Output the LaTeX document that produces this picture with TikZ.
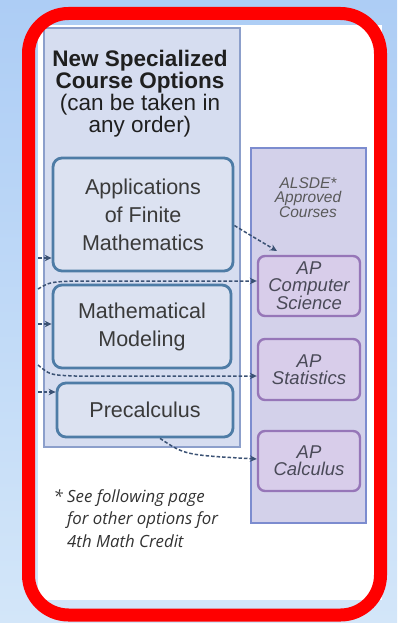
\documentclass[tikz,border=0pt]{standalone}
\usepackage{fontspec}
\setmainfont{Liberation Sans}
\newfontfamily\footfont{Open Sans}
\usetikzlibrary{arrows.meta}
\definecolor{bgtop}{HTML}{ADCDF5}
\definecolor{bgbot}{HTML}{D3E6F9}
\definecolor{panelfill}{HTML}{D6DDF0}
\definecolor{paneldraw}{HTML}{8C9FCB}
\definecolor{rpanelfill}{HTML}{D3D1EA}
\definecolor{rpaneldraw}{HTML}{7C8CCF}
\definecolor{boxfill}{HTML}{DCE2F1}
\definecolor{boxdraw}{HTML}{4E7CA6}
\definecolor{apfill}{HTML}{D8CDEA}
\definecolor{apdraw}{HTML}{9676B8}
\definecolor{arrowcol}{HTML}{3B5274}
\definecolor{txtdark}{HTML}{3A3A3A}
\definecolor{txtap}{HTML}{4A4A58}
\definecolor{borderred}{HTML}{FF0000}
\tikzset{
  panelbox/.style={fill=panelfill, draw=paneldraw, line width=2pt},
  rpanelbox/.style={fill=rpanelfill, draw=rpaneldraw, line width=2pt},
  coursebox/.style={draw=boxdraw, fill=boxfill, line width=2.8pt, rounded corners=9pt,
     align=center, text=txtdark, font=\fontsize{21.5}{28}\selectfont, inner sep=0pt},
  apbox/.style={draw=apdraw, fill=apfill, line width=2.4pt, rounded corners=7pt,
     align=center, text=txtap, font=\itshape\fontsize{18.5}{17}\selectfont,
     minimum width=102pt, minimum height=60pt, inner sep=0pt},
  dasharrow/.style={draw=arrowcol, line width=1.5pt, dash pattern=on 3.5pt off 2pt,
     -{Stealth[length=7pt,width=6.5pt]}},
}
\begin{document}
\begin{tikzpicture}[x=1pt,y=-1pt]
\useasboundingbox (0,0) rectangle (397,623);
\shade[top color=bgtop, bottom color=bgbot] (0,0) rectangle (397,623);
\fill[white] (38,25) rectangle (382,600);

% panels
\draw[panelbox] (44,28) rectangle (240,447);
\draw[rpanelbox] (251,148) rectangle (366,523);

% heading
\node[align=center, text=black!88, inner sep=0pt] (head) at (140,94)
  {\fontsize{22.5}{27}\selectfont\bfseries New Specialized\\
   \fontsize{22.5}{27}\selectfont\bfseries Course Options\\
   \fontsize{22.5}{27}\selectfont(can be taken in\\
   \fontsize{22.5}{27}\selectfont any order)};

\node[align=center, text=black!65, inner sep=0pt, font=\itshape\fontsize{15.5}{14}\selectfont]
  (alsde) at (308,198) {ALSDE*\\Approved\\Courses};

% course boxes
\node[coursebox, minimum width=180pt, minimum height=113pt] (app) at (143,214.5)
  {Applications\\of Finite\\Mathematics};
\node[coursebox, minimum width=178pt, minimum height=83pt] (mm) at (142,326.5)
  {Mathematical\\Modeling};
\node[coursebox, minimum width=176pt, minimum height=54pt] (pre) at (145,410)
  {Precalculus};

% AP boxes
\node[apbox] (apcs) at (309,286) {AP\\Computer\\Science};
\node[apbox, minimum height=61pt] (apst) at (309,369.5) {AP\\Statistics};
\node[apbox] (apca) at (309,461) {AP\\Calculus};

% footnote
\node[anchor=north west, align=left, inner sep=0pt, text=black!80,
      font=\footfont\itshape\fontsize{16.8}{22.5}\selectfont] (foot) at (67,489)
  {\llap{* }See following page\\for other options for\\4th Math Credit};

% connectors
\coordinate (l1) at (38,258);
\coordinate (l2) at (38,289);
\coordinate (l3) at (38,324);
\coordinate (l4) at (38,365);
\coordinate (l5) at (38,392);
\coordinate (cstop) at (277,251);

\draw[dasharrow] ([yshift=-11pt]app.east) .. controls (250,235) .. (cstop);
\draw[dasharrow] (l2) .. controls (50,282) .. (75,281) -- ([yshift=5pt]apcs.west);
\draw[dasharrow] (l4) .. controls (50,375) .. (75,376) -- ([yshift=-6.5pt]apst.west);
\draw[dasharrow] ([xshift=15pt]pre.south) .. controls (185,455) .. ([yshift=2pt]apca.west);
\draw[dasharrow] (l1) -- (app.west |- l1);
\draw[dasharrow] (l3) -- (mm.west |- l3);
\draw[dasharrow] (l5) -- (pre.west |- l5);

% red frame
\draw[borderred, line width=13pt, rounded corners=40pt] (28.5,13.5) rectangle (380.5,615);
\end{tikzpicture}
\end{document}
